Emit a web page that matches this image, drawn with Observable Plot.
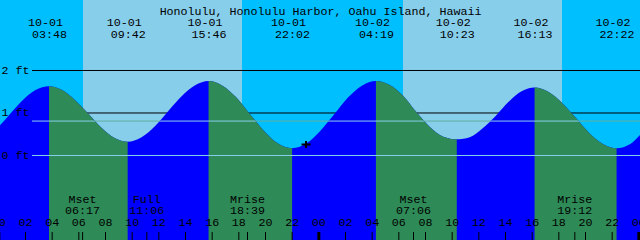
<!DOCTYPE html>
<html><head><meta charset="utf-8">
<script src="https://cdn.jsdelivr.net/npm/d3@7"></script>
<script src="https://cdn.jsdelivr.net/npm/@observablehq/plot@0.6"></script>
<style>
html,body{margin:0;padding:0;background:#00BFFF;overflow:hidden}
svg{display:block}
</style></head><body>
<script>
const title = "Honolulu, Honolulu Harbor, Oahu Island, Hawaii";

// tide curve readings (hours since 10-01 00:00, feet)
const curveHours = [0.125, 0.75, 1.767, 2.783, 3.8, 4.783, 5.767, 6.75, 7.733, 8.717, 9.7,
  10.711, 11.722, 12.733, 13.744, 14.756, 15.767, 16.811, 17.856, 18.9, 19.944, 20.989, 22.033,
  23.081, 24.128, 25.175, 26.222, 27.269, 28.317, 29.328, 30.339, 31.35, 32.361, 33.372, 34.383,
  35.355, 36.328, 37.3, 38.272, 39.244, 40.217, 41.242, 42.267, 43.292, 44.317, 45.342, 46.367,
  47.4, 48.125];
const curveFeet = [0.70, 0.92, 1.27, 1.53, 1.62, 1.53, 1.29, 0.97, 0.64, 0.40, 0.31,
  0.41, 0.67, 1.03, 1.38, 1.64, 1.74, 1.63, 1.35, 0.95, 0.56, 0.27, 0.16,
  0.27, 0.56, 0.95, 1.35, 1.63, 1.74, 1.65, 1.40, 1.01, 0.66, 0.43, 0.37,
  0.42, 0.63, 0.92, 1.25, 1.50, 1.59, 1.49, 1.23, 0.88, 0.52, 0.26, 0.16,
  0.26, 0.47];

// high / low tides
const tideHours = [3.8, 9.7, 15.767, 22.033, 28.317, 34.383, 40.217, 46.367];
const tideKind = ["high", "low", "high", "low", "high", "low", "high", "low"];
const tideDates = ["10-01", "10-01", "10-01", "10-01", "10-02", "10-02", "10-02", "10-02"];
const tideTimes = ["03:48", "09:42", "15:46", "22:02", "04:19", "10:23", "16:13", "22:22"];

// sun (daylight intervals)
const sunriseHours = [6.35, 30.35];
const sunsetHours = [18.275, 42.275];

// moon events
const moonHours = [6.283, 11.1, 18.65, 31.1, 43.2];
const moonNames = ["Mset", "Full", "Mrise", "Mset", "Mrise"];
const moonTimes = ["06:17", "11:06", "18:39", "07:06", "19:12"];

// axis ticks
const hourTicks = [0, 2, 4, 6, 8, 10, 12, 14, 16, 18, 20, 22, 24, 26, 28, 30, 32, 34, 36, 38, 40, 42, 44, 46, 48];
const hourLabels = ["00", "02", "04", "06", "08", "10", "12", "14", "16", "18", "20", "22",
  "00", "02", "04", "06", "08", "10", "12", "14", "16", "18", "20", "22", "00"];
const dayTicks = [0, 24, 48];
const levelFeet = [2, 1, 0];
const levelLabels = ["2 ft", "1 ft", "0 ft"];
const mslFeet = 0.81;

// current time marker
const nowHours = [23.04];
const nowFeet = [0.26];

const xDomain = [0.125, 48.125];
const yDomain = [-2, 3.647];

const NIGHT = "#00BFFF", DAY = "#87CEEB", FLOOD = "#0000FF", EBB = "#2E8B57";
const FONT = "Liberation Mono";
const FS = 11.67;

const curveRows = curveHours.map((t, i) => ({t, h: curveFeet[i]}));
const bounds = [...tideHours, xDomain[1]];
const ebbRows = tideHours.map((t, i) => ({x1: t, x2: bounds[i + 1], kind: tideKind[i]})).filter(d => d.kind === "high");
const sunRows = sunriseHours.map((t, i) => ({x1: t, x2: sunsetHours[i]}));
const tideIdx = d3.range(tideHours.length);
const moonIdx = d3.range(moonHours.length);
const hourIdx = d3.range(hourTicks.length);
const nowRows = nowHours.map((t, i) => ({t, h: nowFeet[i]}));

const plusSymbol = {draw(ctx) { ctx.moveTo(-4.5, 0); ctx.lineTo(4.5, 0); ctx.moveTo(0, -3.5); ctx.lineTo(0, 3.5); }};
const txt = {fontFamily: FONT, fontSize: FS, fill: "black"};

const chart = Plot.plot({
  width: 640, height: 240, margin: 0,
  style: {background: NIGHT, fontFamily: FONT, fontSize: FS + "px"},
  x: {domain: xDomain, axis: null},
  y: {domain: yDomain, axis: null},
  marks: [
    Plot.rect(sunRows, {x1: "x1", x2: "x2", fill: DAY}),                                   // 0
    Plot.ruleY([2, 1], {insetLeft: 32, stroke: "black"}),                                   // 1
    Plot.ruleY([mslFeet], {insetLeft: 32, stroke: "#5FAFA0"}),                              // 2
    Plot.areaY(curveRows, {x: "t", y1: yDomain[0], y2: "h", curve: "monotone-x", fill: FLOOD}), // 3
    Plot.rect(ebbRows, {x1: "x1", x2: "x2", fill: EBB}),                                   // 4
    Plot.ruleY([mslFeet, 0], {insetLeft: 32, stroke: DAY}),                                 // 5
    Plot.ruleX(hourTicks, {insetTop: 232, stroke: "black"}),
    Plot.ruleX(moonHours, {insetTop: 232, stroke: "black"}),
    Plot.ruleX(dayTicks, {insetTop: 232, stroke: "black", strokeWidth: 3}),
    Plot.text([title], {frameAnchor: "top", dy: 6, ...txt}),
    Plot.text(tideIdx, {x: i => tideHours[i], text: i => tideDates[i], frameAnchor: "top", dy: 17.5, dx: -4, ...txt}),
    Plot.text(tideIdx, {x: i => tideHours[i], text: i => tideTimes[i], frameAnchor: "top", dy: 29.3, ...txt}),
    Plot.text(levelFeet, {y: d => d, text: (d, i) => levelLabels[i], frameAnchor: "left", textAnchor: "start", dx: 1, dy: -0.5, ...txt}),
    Plot.text(moonIdx, {x: i => moonHours[i], text: i => moonNames[i], frameAnchor: "bottom", dy: -38, ...txt}),
    Plot.text(moonIdx, {x: i => moonHours[i], text: i => moonTimes[i], frameAnchor: "bottom", dy: -26.3, ...txt}),
    Plot.text(hourIdx, {x: i => hourTicks[i], text: i => hourLabels[i], frameAnchor: "bottom", dy: -15, ...txt}),
    Plot.dot(nowRows, {x: "t", y: "h", symbol: plusSymbol, stroke: "black", fill: "none", strokeWidth: 2})
  ]
});

// clip the ebb colouring and water-level lines to the water area
const ns = "http://www.w3.org/2000/svg";
const markNodes = [...chart.children].filter(n => n.tagName.toLowerCase() === "g");
const areaPath = markNodes[3].querySelector("path");
if (areaPath) {
  const defs = document.createElementNS(ns, "defs");
  const cp = document.createElementNS(ns, "clipPath");
  cp.setAttribute("id", "waterclip");
  const cpath = document.createElementNS(ns, "path");
  cpath.setAttribute("d", areaPath.getAttribute("d"));
  cp.appendChild(cpath);
  defs.appendChild(cp);
  chart.insertBefore(defs, chart.firstChild);
  for (const g of [markNodes[4], markNodes[5]]) {
    const wrap = document.createElementNS(ns, "g");
    wrap.setAttribute("clip-path", "url(#waterclip)");
    g.parentNode.insertBefore(wrap, g);
    wrap.appendChild(g);
  }
}
document.body.appendChild(chart);
</script>
</body></html>
